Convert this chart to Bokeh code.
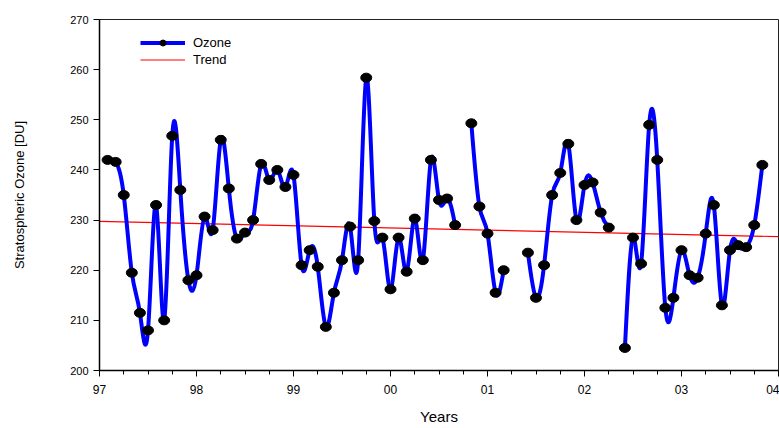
import numpy as np
from bokeh.plotting import figure
from bokeh.models import Range1d, FixedTicker, Legend, LegendItem, ColumnDataSource
from bokeh.embed import file_html
from bokeh.resources import INLINE

# ---- data ----
months = [1, 2, 3, 4, 5, 6, 7, 8, 9, 10, 11, 12, 13, 14, 15, 16, 17, 18, 19, 20,
          21, 22, 23, 24, 25, 26, 27, 28, 29, 30, 31, 32, 33, 34, 35, 36, 37, 38, 39, 40,
          41, 42, 43, 44, 46, 47, 48, 49, 50, 53, 54, 55, 56, 57, 58, 59, 60, 61, 62, 63,
          65, 66, 67, 68, 69, 70, 71, 72, 73, 74, 75, 76, 77, 78, 79, 80, 81, 82]
ozone = [242.0, 241.6, 235.0, 219.5, 211.5, 208.0, 233.0, 210.0, 246.8, 236.0,
         218.0, 219.0, 230.7, 228.0, 246.0, 236.3, 226.3, 227.5, 230.0, 241.2,
         238.0, 240.0, 236.6, 239.0, 221.0, 224.0, 220.7, 208.7, 215.5, 222.0,
         228.7, 222.0, 258.4, 229.8, 226.5, 216.2, 226.5, 219.7, 230.3, 222.0,
         242.0, 234.0, 234.3, 229.0, 249.3, 232.7, 227.3, 215.5, 220.0, 223.5,
         214.5, 221.0, 235.0, 239.4, 245.2, 230.0, 237.0, 237.5, 231.5, 228.5,
         204.5, 226.5, 221.3, 249.0, 242.0, 212.5, 214.5, 224.0, 219.0, 218.5,
         227.3, 233.0, 213.0, 224.0, 225.0, 224.6, 229.0, 241.0]
start_year = 97
trend_x = [97, 104]
trend_y = [229.75, 226.7]
year_ticks = [97, 98, 99, 100, 101, 102, 103, 104]
year_labels = ["97", "98", "99", "00", "01", "02", "03", "04"]
ozone_ticks = [200, 210, 220, 230, 240, 250, 260, 270]

xs = [start_year + m / 12.0 for m in months]

# ---- split into contiguous segments and build natural cubic spline as beziers ----
def spline_beziers(x, y):
    x = np.asarray(x, float); y = np.asarray(y, float)
    n = len(x)
    if n < 2:
        return []
    h = np.diff(x)
    M = np.zeros(n)
    if n > 2:
        A = np.zeros((n - 2, n - 2)); r = np.zeros(n - 2)
        for i in range(1, n - 1):
            k = i - 1
            A[k, k] = 2 * (h[i - 1] + h[i])
            if k > 0:
                A[k, k - 1] = h[i - 1]
            if k < n - 3:
                A[k, k + 1] = h[i]
            r[k] = 6 * ((y[i + 1] - y[i]) / h[i] - (y[i] - y[i - 1]) / h[i - 1])
        M[1:-1] = np.linalg.solve(A, r)
    slopes = np.zeros(n)
    for i in range(n - 1):
        slopes[i] = (y[i + 1] - y[i]) / h[i] - h[i] * (2 * M[i] + M[i + 1]) / 6
    slopes[-1] = (y[-1] - y[-2]) / h[-1] + h[-1] * (M[-2] + 2 * M[-1]) / 6
    segs = []
    for i in range(n - 1):
        d = h[i] / 3
        segs.append((x[i], y[i], x[i + 1], y[i + 1],
                     x[i] + d, y[i] + slopes[i] * d,
                     x[i + 1] - d, y[i + 1] - slopes[i + 1] * d))
    return segs

groups = []
cur_x, cur_y = [xs[0]], [ozone[0]]
for i in range(1, len(months)):
    if months[i] - months[i - 1] > 1:
        groups.append((cur_x, cur_y)); cur_x, cur_y = [], []
    cur_x.append(xs[i]); cur_y.append(ozone[i])
groups.append((cur_x, cur_y))

segs = []
for gx, gy in groups:
    segs += spline_beziers(gx, gy)
bz = ColumnDataSource(dict(
    x0=[s[0] for s in segs], y0=[s[1] for s in segs],
    x1=[s[2] for s in segs], y1=[s[3] for s in segs],
    cx0=[s[4] for s in segs], cy0=[s[5] for s in segs],
    cx1=[s[6] for s in segs], cy1=[s[7] for s in segs]))

# ---- figure ----
FONT = "Liberation Sans"
p = figure(width=779, height=428, output_backend="svg", toolbar_location=None,
           x_range=Range1d(97, 104), y_range=Range1d(200, 270))
p.min_border_left = 99
p.min_border_right = 1
p.min_border_top = 19
p.min_border_bottom = 58
p.background_fill_color = "white"
p.border_fill_color = "white"
p.outline_line_color = "#222222"
p.outline_line_width = 1
p.xgrid.visible = False
p.ygrid.visible = False

minor = [97 + q / 4.0 for q in range(29) if q % 4 != 0]
p.xaxis.ticker = FixedTicker(ticks=year_ticks, minor_ticks=minor)
p.xaxis.major_label_overrides = {t: l for t, l in zip(year_ticks, year_labels)}
p.yaxis.ticker = FixedTicker(ticks=ozone_ticks)

for ax in (p.xaxis[0], p.yaxis[0]):
    ax.axis_line_color = "black"
    ax.axis_line_width = 1.5
    ax.major_tick_line_color = "black"
    ax.minor_tick_line_color = "black"
    ax.major_tick_in = 0
    ax.major_tick_out = 6
    ax.minor_tick_in = 0
    ax.minor_tick_out = 4
    ax.major_label_text_font = FONT
    ax.major_label_text_color = "black"
    ax.axis_label_text_font = FONT
    ax.axis_label_text_font_style = "normal"
    ax.axis_label_text_color = "black"
p.yaxis.minor_tick_out = 0
p.xaxis.major_label_text_font_size = "12px"
p.yaxis.major_label_text_font_size = "11px"
p.xaxis.major_label_standoff = 8
p.yaxis.major_label_standoff = 5
p.xaxis.axis_label = "Years"
p.xaxis.axis_label_text_font_size = "15px"
p.xaxis.axis_label_standoff = 11
p.yaxis.axis_label = "Stratospheric Ozone [DU]"
p.yaxis.axis_label_text_font_size = "13px"
p.yaxis.axis_label_standoff = 40

# trend
trend_r = p.line(trend_x, trend_y, line_color="#ff0000", line_width=1.2)

# ozone spline
p.bezier(x0="x0", y0="y0", x1="x1", y1="y1", cx0="cx0", cy0="cy0", cx1="cx1", cy1="cy1",
         source=bz, line_color="#0000ff", line_width=4, line_cap="round")
p.ellipse(x=xs, y=ozone, width=11, height=9, width_units="screen", height_units="screen",
          fill_color="black", line_color="black")

# legend proxies (off-range single points so the legend has something to draw)
leg_line = p.line([90, 91], [100, 100], line_color="#0000ff", line_width=4)
leg_dot = p.scatter([90], [100], marker="circle", size=10, fill_color="black", line_color="black")
legend = Legend(items=[LegendItem(label="Ozone", renderers=[leg_line, leg_dot]),
                       LegendItem(label="Trend", renderers=[trend_r])],
                location=(41, 303))
legend.border_line_color = None
legend.background_fill_alpha = 0
legend.margin = 0
legend.padding = 0
legend.spacing = 2
legend.glyph_width = 45
legend.glyph_height = 15
legend.label_height = 15
legend.label_standoff = 8
legend.label_text_font = FONT
legend.label_text_font_size = "13px"
legend.label_text_color = "black"
p.add_layout(legend, "center")

open("out.html", "w").write(file_html(p, INLINE))
